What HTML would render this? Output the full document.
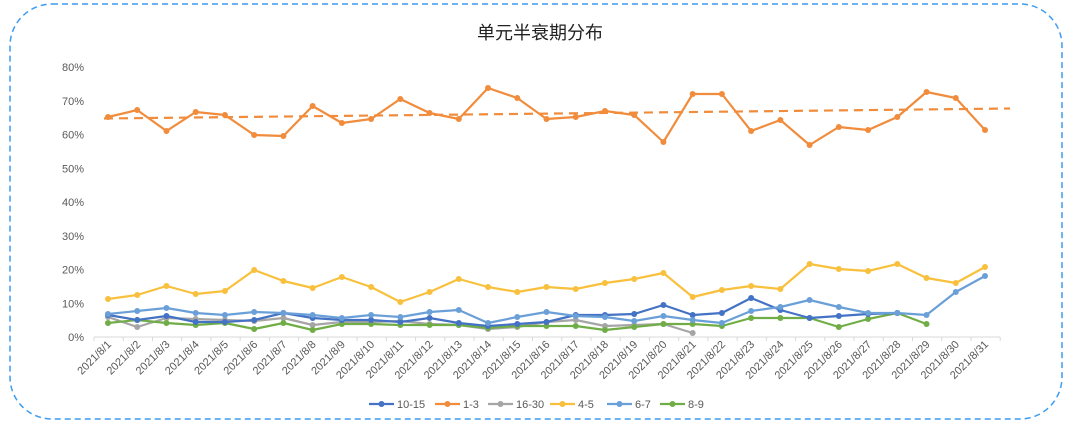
<!DOCTYPE html>
<html><head><meta charset="utf-8"><style>
html,body{margin:0;padding:0;background:#fff;width:1071px;height:424px;overflow:hidden}
svg{display:block;font-family:"Liberation Sans","Noto Sans CJK SC",sans-serif}
</style></head><body>
<svg id="s" width="1071" height="424" xmlns="http://www.w3.org/2000/svg">
<rect x="10" y="4" width="1052" height="415" rx="42" fill="none" stroke="#3d9cf0" stroke-width="1.5" stroke-dasharray="6,4"/>
<text x="540" y="39" text-anchor="middle" font-size="18" fill="#222">单元半衰期分布</text>
<g id="g"></g>
</svg>
<script>
var g=document.getElementById('g'),h='';
var x0=108,dx=877/30;
function X(i){return x0+i*dx}
for(var p=0;p<=8;p++){var y=337-p*33.75;h+='<text x="84" y="'+(y+4)+'" text-anchor="end" font-size="11" fill="#595959">'+(p*10)+'%</text>';}
h+='<line x1="94" y1="337" x2="1000" y2="337" stroke="#d9d9d9"/>';
for(var i=0;i<=31;i++){var xx=94+i*dx;h+='<line x1="'+xx+'" y1="337" x2="'+xx+'" y2="341" stroke="#d9d9d9"/>';}
for(var i=0;i<31;i++){var xx=X(i)+4,yy=345;h+='<text transform="translate('+xx+','+yy+') rotate(-45)" text-anchor="end" font-size="11" fill="#595959">2021/8/'+(i+1)+'</text>';}
var S=[
['#f08c3c',[117,110,131,112,115,135,136,106,123,119,99,113,119,88,98,119,117,111,115,142,94,94,131,120,145,127,130,117,92,98,130]],
['#f8c03c',[299,295,286,294,291,270,281,288,277,287,302,292,279,287,292,287,289,283,279,273,297,290,286,289,264,269,271,264,278,283,267]],
['#a5a5a5',[317,327,318,319,320,321,318,325,322,322,321,324,325,329,327,322,320,326,325,324,333]],
['#70ad47',[323,320,323,325,323,329,323,330,324,324,325,325,325,328,326,326,326,330,327,324,324,326,318,318,318,327,319,313,324]],
['#4472c4',[315,320,316,322,322,320,313,318,320,320,322,318,323,326,324,322,315,315,314,305,315,313,298,310,318,316,314,313]],
['#6a9fd8',[314,311,308,313,315,312,313,315,318,315,317,312,310,323,317,312,316,317,321,316,320,323,311,307,300,307,313,313,315,292,276]]
];
S.forEach(function(s){var pts=s[1].map(function(v,i){return X(i).toFixed(1)+','+v}).join(' ');
h+='<polyline points="'+pts+'" fill="none" stroke="'+s[0]+'" stroke-width="2.2" stroke-linejoin="round"/>';
s[1].forEach(function(v,i){h+='<circle cx="'+X(i)+'" cy="'+v+'" r="3" fill="'+s[0]+'"/>';});});
h+='<line x1="104" y1="118.5" x2="1010" y2="108.5" stroke="#f08c3c" stroke-width="2.2" stroke-dasharray="9,6"/>';
var L=[['#4472c4','10-15',369],['#f08c3c','1-3',435],['#a5a5a5','16-30',488],['#f8c03c','4-5',550],['#6a9fd8','6-7',607],['#70ad47','8-9',660]];
L.forEach(function(l){h+='<line x1="'+l[2]+'" y1="404" x2="'+(l[2]+25)+'" y2="404" stroke="'+l[0]+'" stroke-width="2.2"/><circle cx="'+(l[2]+12.5)+'" cy="404" r="3" fill="'+l[0]+'"/><text x="'+(l[2]+28)+'" y="408" font-size="11" fill="#595959">'+l[1]+'</text>';});
g.innerHTML=h;
</script>
</body></html>
